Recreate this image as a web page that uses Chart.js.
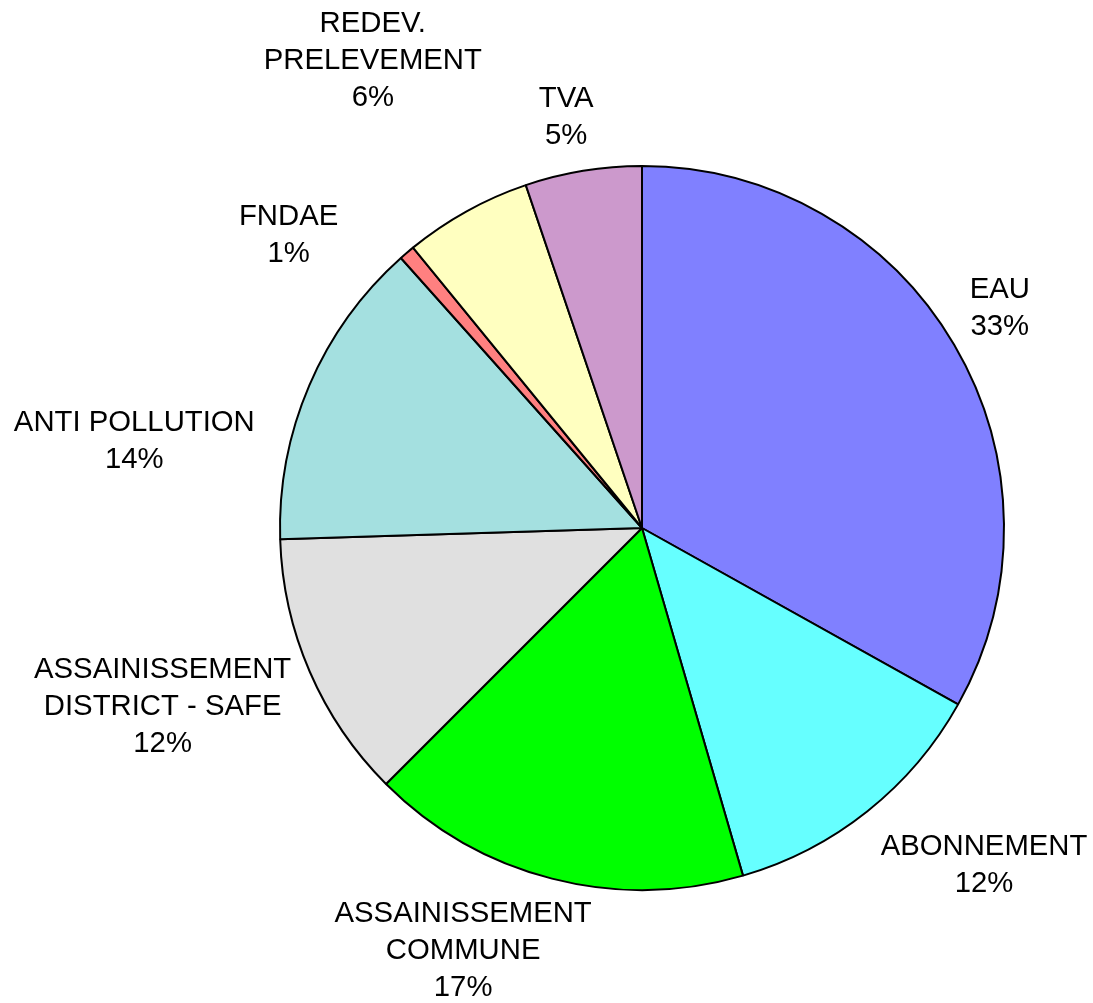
<!DOCTYPE html>
<html lang="fr">
<head>
<meta charset="utf-8">
<title>Répartition de la facture d'eau</title>
<script src="https://cdn.jsdelivr.net/npm/chart.js@4.4.1/dist/chart.umd.min.js"></script>
<style>
  html, body { margin: 0; padding: 0; background: #fff; }
  #wrap { width: 1093px; height: 1003px; position: relative; }
</style>
</head>
<body>
<div id="wrap"><canvas id="repartition"></canvas></div>
<script>
// postes de la facture (lignes du libellé)
const categories = [
  ["EAU"],
  ["ABONNEMENT"],
  ["ASSAINISSEMENT", "COMMUNE"],
  ["ASSAINISSEMENT", "DISTRICT - SAFE"],
  ["ANTI POLLUTION"],
  ["FNDAE"],
  ["REDEV.", "PRELEVEMENT"],
  ["TVA"],
];
// part de chaque poste (%)
const shares = [33.1, 12.4, 17.0, 12.0, 13.9, 0.7, 5.7, 5.2];

const sliceColors = ["#8080FF", "#66FFFF", "#00FF00", "#E0E0E0", "#A4E0E0", "#FF8080", "#FFFFC0", "#CC99CC"];

// décalages manuels des étiquettes (px) pour éviter les chevauchements
const labelShift = [[0, -1], [2, 9], [2, 5], [-2, -21], [-38, 90], [-57, 23], [24, -90], [-2, -9]];

const fontSize = 29.3;
const lineH = 37;

// étiquettes "libellé + pourcentage" à l'extérieur du camembert
const outsideLabels = {
  id: "outsideLabels",
  afterDatasetsDraw(chart) {
    const ctx = chart.ctx;
    const meta = chart.getDatasetMeta(0);
    const total = shares.reduce((a, b) => a + b, 0);
    ctx.save();
    ctx.font = fontSize + "px 'Liberation Sans', Arial, sans-serif";
    ctx.fillStyle = "#000";
    ctx.textAlign = "center";
    ctx.textBaseline = "alphabetic";
    meta.data.forEach((arc, i) => {
      const { x, y, startAngle, endAngle, outerRadius } = arc.getProps(["x", "y", "startAngle", "endAngle", "outerRadius"], true);
      const mid = (startAngle + endAngle) / 2;
      const dx = Math.cos(mid);
      const dy = Math.sin(mid);
      const lines = categories[i].concat([Math.round((shares[i] / total) * 100) + "%"]);
      const w = Math.max(...lines.map((l) => ctx.measureText(l).width));
      const capH = fontSize * 0.7;
      const h = (lines.length - 1) * lineH + capH;
      const px = x + dx * (outerRadius + 18);
      const py = y + dy * (outerRadius + 18);
      const fx = Math.max(-1, Math.min(1, dx * 2.7));
      const fy = Math.max(-1, Math.min(1, dy * 2.7));
      const cx = px + fx * w / 2 + labelShift[i][0];
      const cy = py + fy * h / 2 + labelShift[i][1];
      const firstBase = cy - h / 2 + capH;
      lines.forEach((line, k) => {
        ctx.fillText(line, cx, firstBase + k * lineH);
      });
    });
    ctx.restore();
  },
};

new Chart(document.getElementById("repartition").getContext("2d"), {
  type: "pie",
  data: {
    labels: categories.map((c) => c.join(" ")),
    datasets: [
      {
        data: shares,
        backgroundColor: sliceColors,
        borderColor: "#000",
        borderWidth: 2,
      },
    ],
  },
  options: {
    responsive: true,
    maintainAspectRatio: false,
    animation: false,
    layout: {
      padding: { left: 279, right: 88, top: 165, bottom: 112 },
    },
    plugins: {
      legend: { display: false },
      tooltip: { enabled: false },
    },
  },
  plugins: [outsideLabels],
});
</script>
</body>
</html>
